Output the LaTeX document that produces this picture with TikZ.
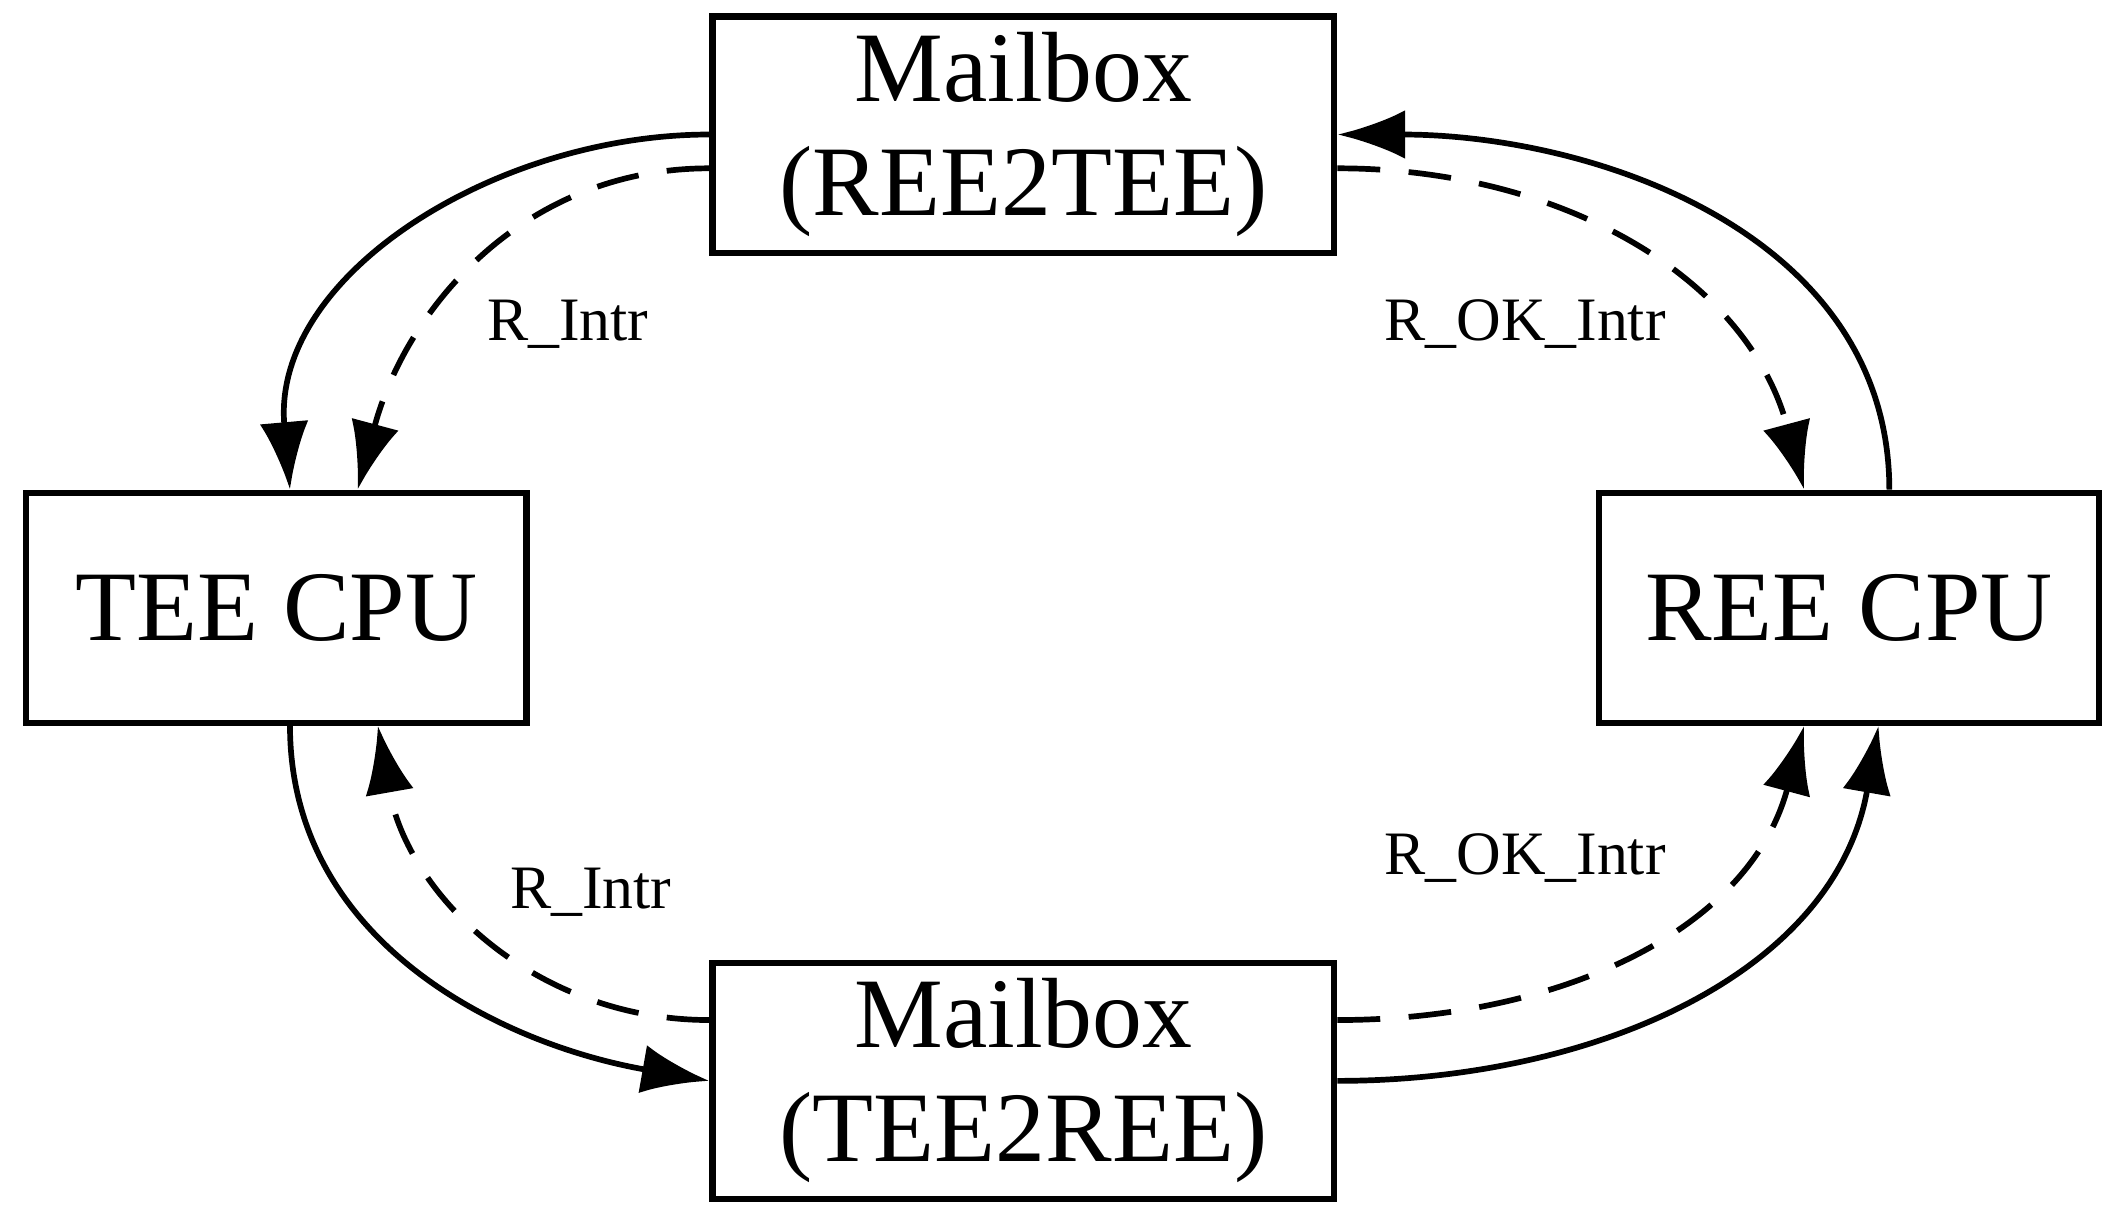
\documentclass[tikz,border=0pt]{standalone}
\usepackage{fontspec}
\setmainfont{Liberation Serif}
\usetikzlibrary{arrows.meta}

\begin{document}
\begin{tikzpicture}
		\tikzstyle{box}=[draw, line width=1.3pt, minimum width=4.6cm, minimum height=1.7cm, align=center, font=\fontsize{21}{24}\selectfont]
		\tikzstyle{lbl}=[font=\fontsize{13}{15}\selectfont]
		\tikzstyle{conn}=[line width=1.2pt, -{Latex[length=5mm,width=3.6mm]}]
		\tikzstyle{dconn}=[conn, dash pattern=on 9pt off 6pt]
		\useasboundingbox (0,0) rectangle (15.6,-8.98);
		\node [box] (mbt) at (7.57,-0.995) {Mailbox\\(REE2TEE)};
		\node [box] (mbb) at (7.57,-7.995) {Mailbox\\(TEE2REE)};
		\node [box, minimum width=3.7cm] (tee) at (2.045,-4.495) {TEE CPU};
		\node [box, minimum width=3.7cm] (ree) at (13.675,-4.495) {REE CPU};
		\node [lbl] (l1) at (4.2,-2.4) {R\_Intr};
		\node [lbl] (l2) at (11.28,-2.4) {R\_OK\_Intr};
		\node [lbl] (l3) at (4.37,-6.6) {R\_Intr};
		\node [lbl] (l4) at (11.28,-6.35) {R\_OK\_Intr};
		\draw[conn] (mbt.west) to[out=180, in=95] ([xshift=0.1cm]tee.north);
		\draw[dconn] ([yshift=-0.25cm]mbt.west) to[out=180, in=75] ([xshift=0.6cm]tee.north);
		\draw[conn] ([xshift=0.3cm]ree.north) to[out=90, in=0] (mbt.east);
		\draw[dconn] ([yshift=-0.25cm]mbt.east) to[out=0, in=105] ([xshift=-0.33cm]ree.north);
		\draw[conn] ([xshift=0.1cm]tee.south) to[out=-90, in=170] (mbb.west);
		\draw[dconn] ([yshift=0.45cm]mbb.west) to[out=180, in=-80] ([xshift=0.75cm]tee.south);
		\draw[dconn] ([yshift=0.45cm]mbb.east) to[out=0, in=-105] ([xshift=-0.33cm]ree.south);
		\draw[conn] (mbb.east) to[out=0, in=-100] ([xshift=0.22cm]ree.south);
	\end{tikzpicture}
\end{document}
